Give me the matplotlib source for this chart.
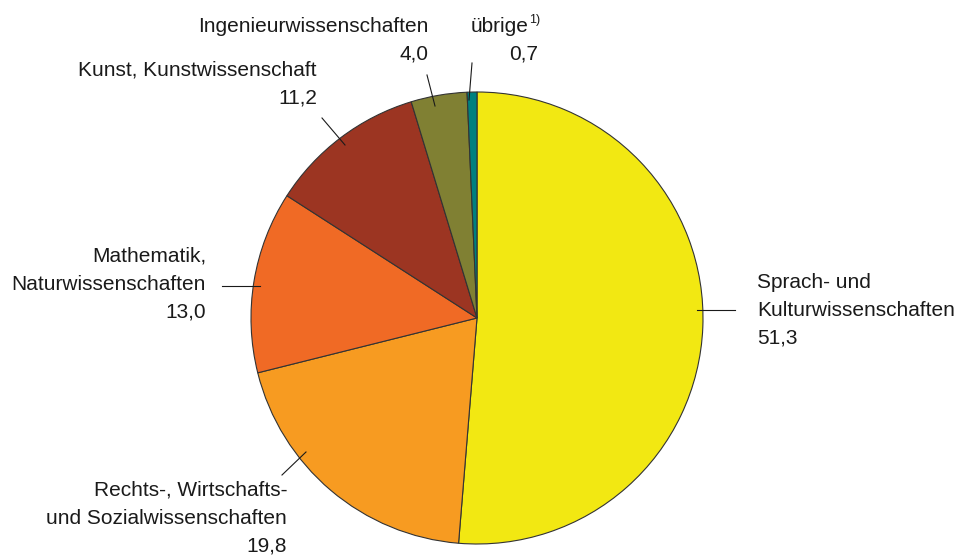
import matplotlib.pyplot as plt

plt.rcParams['font.family'] = ['Liberation Sans', 'DejaVu Sans']

# shares in percent, clockwise from 12 o'clock
fields = [['Sprach- und', 'Kulturwissenschaften'],
          ['Rechts-, Wirtschafts-', 'und Sozialwissenschaften'],
          ['Mathematik,', 'Naturwissenschaften'],
          ['Kunst, Kunstwissenschaft'],
          ['Ingenieurwissenschaften'],
          ['übrige']]
shares = [51.3, 19.8, 13.0, 11.2, 4.0, 0.7]
colors = ['#f2e812', '#f79b21', '#f06a25', '#9c3522', '#808033', '#00807f']

W, H = 960, 557
fig = plt.figure(figsize=(W / 100, H / 100), dpi=100)
ax = fig.add_axes([0, 0, 1, 1])

cx, cy, r = 477, H - 318, 226
ax.pie(shares, colors=colors, startangle=90, counterclock=False,
       center=(cx, cy), radius=r, frame=True,
       wedgeprops=dict(edgecolor='#333333', linewidth=0.8))
ax.set_xlim(0, W)
ax.set_ylim(0, H)
ax.set_aspect('equal')
ax.axis('off')


def fmt(v):
    return f'{v:.1f}'.replace('.', ',')


fs = 15
step = 27.5
# label anchor: x, baseline of first line (px from top), alignment
pos = [(757, 288, 'left'), (287, 496, 'right'), (206, 262, 'right'),
       (317, 76, 'right'), (428, 32, 'right'), (538, 32, 'right')]
for lines, v, (x, y, ha) in zip(fields, shares, pos):
    lines = lines + [fmt(v)]
    for i, line in enumerate(lines):
        xx = x
        if line == 'übrige':
            xx = x - 10
        ax.text(xx, H - (y + i * step), line, ha=ha, va='baseline',
                fontsize=fs, color='#1a1a1a')
ax.text(529, H - 14, '1)', ha='left', va='top', fontsize=9, color='#1a1a1a')

# leader lines (pixel coordinates)
leaders = [((697, 310), (735, 310)), ((282, 475), (306, 452)),
           ((222, 286), (260, 286)), ((322, 118), (345, 145)),
           ((427, 75), (435, 106)), ((472, 63), (469, 100))]
for (x0, y0), (x1, y1) in leaders:
    ax.plot([x0, x1], [H - y0, H - y1], color='#1a1a1a', lw=0.8)

fig.savefig('out.png', dpi=100, facecolor='white')
